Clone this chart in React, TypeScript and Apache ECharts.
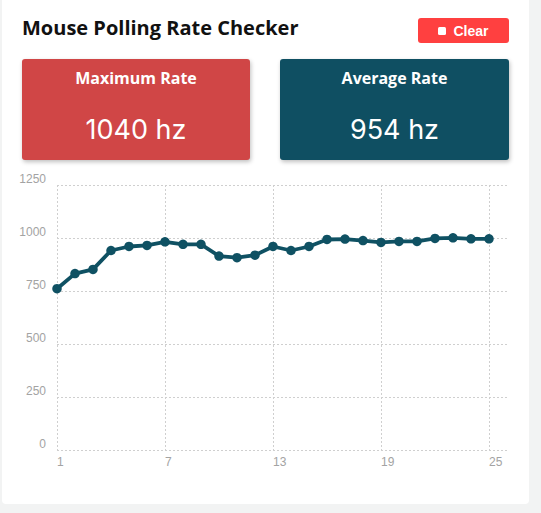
import React, { useEffect, useRef } from "react";
import * as echarts from "echarts";

const title = "Mouse Polling Rate Checker";
const clearLabel = "Clear";
const maxLabel = "Maximum Rate";
const avgLabel = "Average Rate";
const maxValue = "1040 hz";
const avgValue = "954 hz";

const sampleLabels = ["1","2","3","4","5","6","7","8","9","10","11","12","13","14","15","16","17","18","19","20","21","22","23","24","25",""];
const rates = [761, 832, 852, 941, 960, 965, 982, 970, 970, 915, 907, 919, 960, 941, 960, 993, 995, 988, 979, 984, 984, 998, 1001, 996, 996];
const yTicks = { min: 0, max: 1250, interval: 250 };

export default function App() {
  const ref = useRef<HTMLDivElement>(null);
  useEffect(() => {
    document.body.style.margin = "0";
    const chart = echarts.init(ref.current!, null, { renderer: "svg" });
    chart.setOption({
      animation: false,
      grid: { left: 57, right: 34, top: 185, bottom: 63, containLabel: false },
      xAxis: {
        type: "category",
        data: sampleLabels,
        boundaryGap: false,
        axisLine: { show: false },
        axisTick: { show: false },
        axisLabel: {
          interval: 5,
          align: "left",
          margin: 6,
          color: "#a3a3a3",
          fontSize: 12,
          fontFamily: "Arial, 'Liberation Sans', sans-serif",
        },
        splitLine: { show: true, interval: 5, lineStyle: { color: "#cfcfcf", type: [2, 2], width: 1 } },
      },
      yAxis: {
        type: "value",
        min: yTicks.min,
        max: yTicks.max,
        interval: yTicks.interval,
        axisLine: { show: false },
        axisTick: { show: false },
        axisLabel: {
          margin: 11,
          verticalAlign: "bottom",
          color: "#a3a3a3",
          fontSize: 12,
          fontFamily: "Arial, 'Liberation Sans', sans-serif",
          formatter: (v: number) => String(v),
        },
        splitLine: { show: true, lineStyle: { color: "#cfcfcf", type: [2, 2], width: 1 } },
      },
      series: [
        {
          type: "line",
          data: rates,
          symbol: "circle",
          symbolSize: 9.5,
          lineStyle: { color: "#0f5163", width: 3.8 },
          itemStyle: { color: "#0f5163" },
        },
      ],
    });
    return () => chart.dispose();
  }, []);

  const cardBase: React.CSSProperties = {
    position: "absolute",
    top: 59,
    width: 228,
    height: 101,
    borderRadius: 3,
    boxShadow: "1px 2px 4px rgba(0,0,0,0.25)",
    color: "#fff",
    textAlign: "center",
  };
  const cardTitle: React.CSSProperties = {
    position: "absolute",
    left: 0,
    right: 0,
    top: 8,
    fontFamily: "'Open Sans', 'Noto Sans', sans-serif",
    fontWeight: 700,
    fontSize: 16,
  };
  const cardValue: React.CSSProperties = {
    position: "absolute",
    left: 0,
    right: 0,
    top: 54,
    fontFamily: "Inter, Roboto, sans-serif",
    fontWeight: 400,
    fontSize: 27,
  };

  return (
    <div style={{ position: "absolute", left: 0, top: 0, width: 541, height: 513, background: "#f2f3f3", overflow: "hidden" }}>
      <div style={{ position: "absolute", left: 2, top: -5, width: 527, height: 509, background: "#fff", borderRadius: 4 }} />
      <div
        style={{
          position: "absolute",
          left: 22,
          top: 14,
          fontFamily: "'Open Sans', 'Noto Sans', sans-serif",
          fontWeight: 700,
          fontSize: 20,
          color: "#111",
          whiteSpace: "nowrap",
        }}
      >
        {title}
      </div>
      <div
        style={{
          position: "absolute",
          left: 418,
          top: 18,
          width: 91,
          height: 25,
          background: "#ff4040",
          borderRadius: 3,
          color: "#fff",
          fontFamily: "Arial, 'Liberation Sans', sans-serif",
          fontWeight: 700,
          fontSize: 14,
          display: "flex",
          alignItems: "center",
          justifyContent: "center",
        }}
      >
        <span style={{ display: "inline-block", width: 8, height: 8, background: "#fff", borderRadius: 1.5, marginRight: 7 }} />
        <span>{clearLabel}</span>
      </div>
      <div style={{ ...cardBase, left: 22, background: "#d04646" }}>
        <div style={cardTitle}>{maxLabel}</div>
        <div style={cardValue}>{maxValue}</div>
      </div>
      <div style={{ ...cardBase, left: 280, width: 229, background: "#0f4f62" }}>
        <div style={cardTitle}>{avgLabel}</div>
        <div style={cardValue}>{avgValue}</div>
      </div>
      <div ref={ref} style={{ position: "absolute", left: 0, top: 0, width: 541, height: 513 }} />
    </div>
  );
}
